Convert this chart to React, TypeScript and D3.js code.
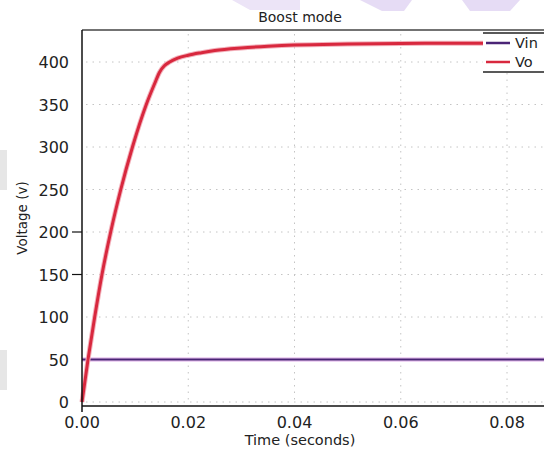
import React from "react";
import * as d3 from "d3";

const W = 544;
const H = 454;

const timeS = [0, 0.00113, 0.00239, 0.00376, 0.0054, 0.0073, 0.0095, 0.0121, 0.0137, 0.0146, 0.0155, 0.0165, 0.018, 0.02, 0.0225, 0.025, 0.03, 0.035, 0.04, 0.05, 0.06, 0.07, 0.08, 0.09, 0.1];
const vo = [0, 50, 100, 150, 200, 250, 300, 350, 375, 388, 395.5, 400, 404.5, 408, 411, 413.5, 416.5, 418.5, 420, 421.2, 421.8, 422, 422.2, 422.2, 422.2];
const vinTime = [0, 0.1];
const vin = [50, 50];

const xTicks = [0, 0.02, 0.04, 0.06, 0.08];
const yTicks = [0, 50, 100, 150, 200, 250, 300, 350, 400];
const yTicksWithMark = [150, 200];
const legendItems = ["Vin", "Vo"];
const seriesColors = ["#4a2476", "#d8283e"];

export default function App() {
  const left = 82;
  const top = 30;
  const bottom = 406;
  const x = d3.scaleLinear().domain([0, 0.08]).range([left, 507]);
  const y = d3.scaleLinear().domain([0, 400]).range([402, 62]);

  const line = d3
    .line<[number, number]>()
    .x((d) => x(d[0]))
    .y((d) => y(d[1]))
    .curve(d3.curveMonotoneX);

  const voPts = timeS.map((t, i) => [t, vo[i]] as [number, number]);
  const vinPts = vinTime.map((t, i) => [t, vin[i]] as [number, number]);

  const font = "'DejaVu Sans', Verdana, sans-serif";

  return (
    <svg
      width={W}
      height={H}
      style={{ position: "absolute", left: 0, top: 0, background: "#fff" }}
      fontFamily={font}
    >
      <rect width={W} height={H} fill="#fff" />
      {/* faint watermark shapes */}
      <polygon points="232,0 300,0 300,10 250,10" fill="#ece4f7" />
      <polygon points="360,0 412,0 404,11 382,11" fill="#e6dcf5" />
      <polygon points="462,0 520,0 510,11 470,11" fill="#e6dcf5" />
      <rect x={0} y={150} width={7} height={40} fill="#e6e6e6" />
      <rect x={0} y={350} width={7} height={40} fill="#e6e6e6" />

      <text x={300} y={22} textAnchor="middle" fontSize={14} fill="#222">
        Boost mode
      </text>

      {/* grid */}
      {yTicks.map((v) => (
        <line
          key={"gy" + v}
          x1={left + 4}
          x2={W}
          y1={y(v)}
          y2={y(v)}
          stroke="#c4c4c4"
          strokeWidth={1}
          strokeDasharray="1.5,5"
        />
      ))}
      {xTicks.slice(1).map((t) => (
        <line
          key={"gx" + t}
          x1={x(t)}
          x2={x(t)}
          y1={top + 4}
          y2={bottom - 2}
          stroke="#c4c4c4"
          strokeWidth={1}
          strokeDasharray="1.5,5"
        />
      ))}

      {/* series */}
      <path d={line(vinPts) || ""} fill="none" stroke="#e9c6ef" strokeWidth={4.5} />
      <path d={line(vinPts) || ""} fill="none" stroke={seriesColors[0]} strokeWidth={2.2} />
      <path d={line(voPts) || ""} fill="none" stroke="#f3b3bd" strokeWidth={5} />
      <path d={line(voPts) || ""} fill="none" stroke={seriesColors[1]} strokeWidth={3} />

      {/* frame */}
      <line x1={left} x2={W} y1={top} y2={top} stroke="#444" strokeWidth={1.5} />
      <line x1={left} x2={left} y1={top} y2={bottom + 6} stroke="#111" strokeWidth={1.5} />
      <line x1={left} x2={W} y1={bottom} y2={bottom} stroke="#111" strokeWidth={1.5} />

      {/* y ticks */}
      {yTicks.map((v) => (
        <text
          key={"yt" + v}
          x={69}
          y={y(v) + 6}
          textAnchor="end"
          fontSize={16}
          fill="#222"
        >
          {v}
        </text>
      ))}
      {yTicksWithMark.map((v) => (
        <line key={"ym" + v} x1={72} x2={left} y1={y(v)} y2={y(v)} stroke="#111" strokeWidth={1.2} />
      ))}

      {/* x ticks */}
      {xTicks.map((t) => (
        <text
          key={"xt" + t}
          x={x(t)}
          y={428}
          textAnchor="middle"
          fontSize={16}
          fill="#222"
        >
          {d3.format(".2f")(t)}
        </text>
      ))}

      <text x={300} y={445} textAnchor="middle" fontSize={14.5} fill="#222">
        Time (seconds)
      </text>
      <text
        transform="translate(27,218) rotate(-90)"
        textAnchor="middle"
        fontSize={13.5}
        fill="#222"
      >
        Voltage (v)
      </text>

      {/* legend */}
      <rect x={483} y={33} width={W - 483} height={39} fill="#fff" />
      <line x1={483} x2={W} y1={33} y2={33} stroke="#222" strokeWidth={1.3} />
      <line x1={483} x2={W} y1={72} y2={72} stroke="#222" strokeWidth={1.3} />
      {legendItems.map((name, i) => (
        <g key={name}>
          <line
            x1={486}
            x2={510}
            y1={43 + i * 19}
            y2={43 + i * 19}
            stroke={seriesColors[i]}
            strokeWidth={2.5}
          />
          <text x={515} y={48 + i * 19} fontSize={14.5} fill="#222">
            {name}
          </text>
        </g>
      ))}
    </svg>
  );
}
